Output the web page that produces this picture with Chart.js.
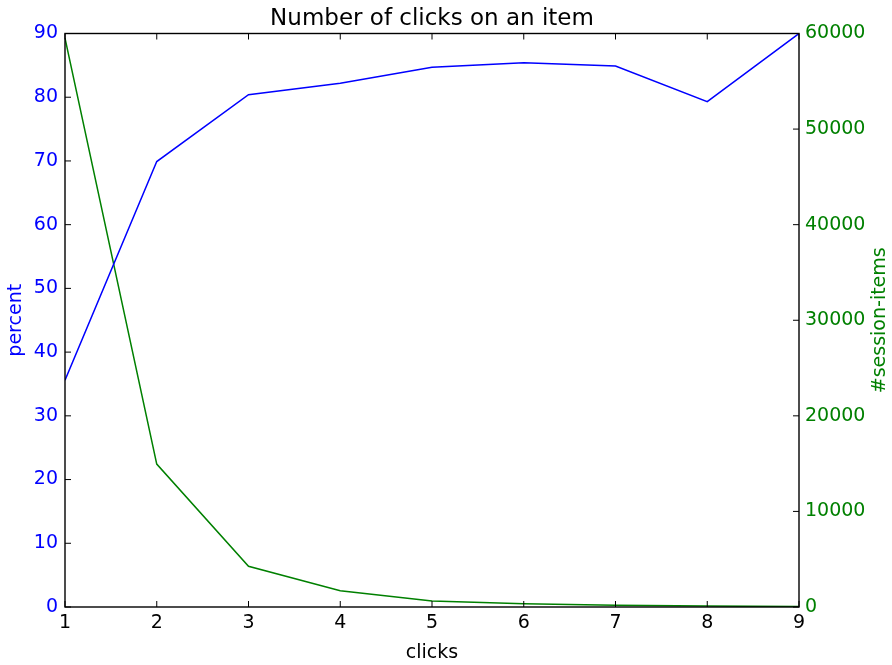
<!DOCTYPE html>
<html>
<head>
<meta charset="utf-8">
<script src="https://cdn.jsdelivr.net/npm/chart.js@4/dist/chart.umd.min.js"></script>
<style>
  html, body { margin: 0; padding: 0; background: #fff; }
  #wrap { width: 892px; height: 665px; }
</style>
</head>
<body>
<div id="wrap"><canvas id="clicksChart"></canvas></div>
<script>
// Données
const clicks = [1, 2, 3, 4, 5, 6, 7, 8, 9];
const percent = [35.6, 69.9, 80.4, 82.2, 84.7, 85.4, 84.9, 79.3, 90.0];
const sessionItems = [59500, 14950, 4260, 1700, 630, 340, 190, 100, 40];

const BLEU = '#0000ff';
const VERT = '#008000';
const POLICE = 'DejaVu Sans';

// Cadre noir + petites graduations vers l'intérieur (style matplotlib)
const cadrePlugin = {
    id: 'cadre',
    afterDatasetsDraw(chart) {
        const { ctx, chartArea: a, scales } = chart;
        const L = 6;
        ctx.save();
        ctx.strokeStyle = '#000';
        ctx.lineWidth = 1;
        ctx.beginPath();
        scales.x.ticks.forEach((t, i) => {
            const px = scales.x.getPixelForTick(i);
            ctx.moveTo(px, a.bottom); ctx.lineTo(px, a.bottom - L);
            ctx.moveTo(px, a.top); ctx.lineTo(px, a.top + L);
        });
        scales.y.ticks.forEach((t, i) => {
            const py = scales.y.getPixelForTick(i);
            ctx.moveTo(a.left, py); ctx.lineTo(a.left + L, py);
        });
        scales.y2.ticks.forEach((t, i) => {
            const py = scales.y2.getPixelForTick(i);
            ctx.moveTo(a.right, py); ctx.lineTo(a.right - L, py);
        });
        ctx.stroke();
        ctx.lineWidth = 1.4;
        ctx.strokeRect(a.left, a.top, a.right - a.left, a.bottom - a.top);

        // titre de l'axe de droite, lu de bas en haut
        ctx.fillStyle = VERT;
        ctx.font = '19px "' + POLICE + '"';
        ctx.textAlign = 'center';
        ctx.textBaseline = 'middle';
        ctx.translate(880, (a.top + a.bottom) / 2);
        ctx.rotate(-Math.PI / 2);
        ctx.fillText('#session-items', 0, 0);
        ctx.restore();
    }
};

const ctx = document.getElementById('clicksChart').getContext('2d');
new Chart(ctx, {
    type: 'line',
    data: {
        datasets: [{
            label: 'percent',
            data: clicks.map((c, i) => ({ x: c, y: percent[i] })),
            borderColor: BLEU,
            borderWidth: 1.5,
            pointRadius: 0,
            tension: 0,
            fill: false,
            yAxisID: 'y'
        }, {
            label: '#session-items',
            data: clicks.map((c, i) => ({ x: c, y: sessionItems[i] })),
            borderColor: VERT,
            borderWidth: 1.5,
            pointRadius: 0,
            tension: 0,
            fill: false,
            yAxisID: 'y2'
        }]
    },
    options: {
        responsive: true,
        maintainAspectRatio: false,
        animation: false,
        layout: { padding: 0 },
        plugins: {
            legend: { display: false },
            tooltip: { enabled: false },
            title: {
                display: true,
                fullSize: false,
                text: 'Number of clicks on an item',
                color: '#000',
                font: { family: POLICE, size: 23, weight: 'normal' },
                padding: { top: 5, bottom: 0.9 }
            }
        },
        scales: {
            x: {
                type: 'linear',
                min: 1,
                max: 9,
                grid: { display: false, drawTicks: false },
                border: { display: false },
                ticks: {
                    stepSize: 1,
                    color: '#000',
                    padding: 5,
                    font: { family: POLICE, size: 19 },
                    maxRotation: 0
                },
                title: {
                    display: true,
                    text: 'clicks',
                    color: '#000',
                    font: { family: POLICE, size: 19 },
                    padding: { top: 0, bottom: 1 }
                },
                afterFit(scale) { scale.height = 58; }
            },
            y: {
                position: 'left',
                min: 0,
                max: 90,
                grid: { display: false, drawTicks: false },
                border: { display: false },
                ticks: {
                    stepSize: 10,
                    color: BLEU,
                    padding: 7,
                    font: { family: POLICE, size: 19 }
                },
                title: {
                    display: true,
                    text: 'percent',
                    color: BLEU,
                    font: { family: POLICE, size: 19 },
                    padding: { top: 4.5, bottom: 0 }
                },
                afterFit(scale) { scale.width = 65; }
            },
            y2: {
                position: 'right',
                min: 0,
                max: 60000,
                grid: { display: false, drawTicks: false },
                border: { display: false },
                ticks: {
                    stepSize: 10000,
                    color: VERT,
                    padding: 6,
                    font: { family: POLICE, size: 19 },
                    callback: v => String(v)
                },
                afterFit(scale) { scale.width = 93; }
            }
        }
    },
    plugins: [cadrePlugin]
});
</script>
</body>
</html>
